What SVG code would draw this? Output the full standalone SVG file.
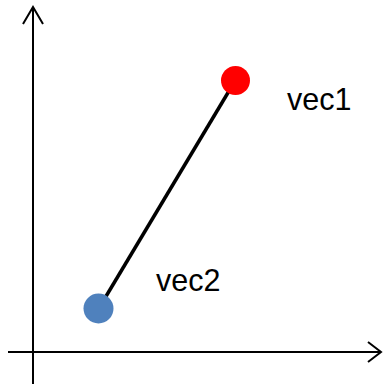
<svg xmlns="http://www.w3.org/2000/svg" width="383" height="384" viewBox="0 0 383 384">
  <style>
    .axis { stroke: #000; stroke-width: 2; fill: none; }
    .head { stroke: #000; stroke-width: 2; fill: none; stroke-linecap: butt; stroke-linejoin: miter; }
    .edge { stroke: #000; stroke-width: 3.5; fill: none; }
    .label { font-family: "Liberation Sans", Arial, sans-serif; font-size: 30.5px; fill: #000; }
  </style>
  <rect width="383" height="384" fill="#fff"/>
  <g id="axes">
    <line class="axis" x1="33" y1="384" x2="33" y2="7"/>
    <polyline class="head" points="23,24 33,7 43,24"/>
    <line class="axis" x1="8" y1="352" x2="381" y2="352"/>
    <polyline class="head" points="368,342 381,352 368,362"/>
  </g>
  <g id="connectors">
    <line class="edge" x1="99" y1="308" x2="235" y2="81"/>
  </g>
  <g id="vec1">
    <circle cx="235.5" cy="80.5" r="14.5" fill="#ff0000"/>
    <text class="label" x="287" y="110">vec1</text>
  </g>
  <g id="vec2">
    <circle cx="98.5" cy="308.5" r="15" fill="#4f81bd"/>
    <text class="label" x="156" y="291">vec2</text>
  </g>
</svg>
